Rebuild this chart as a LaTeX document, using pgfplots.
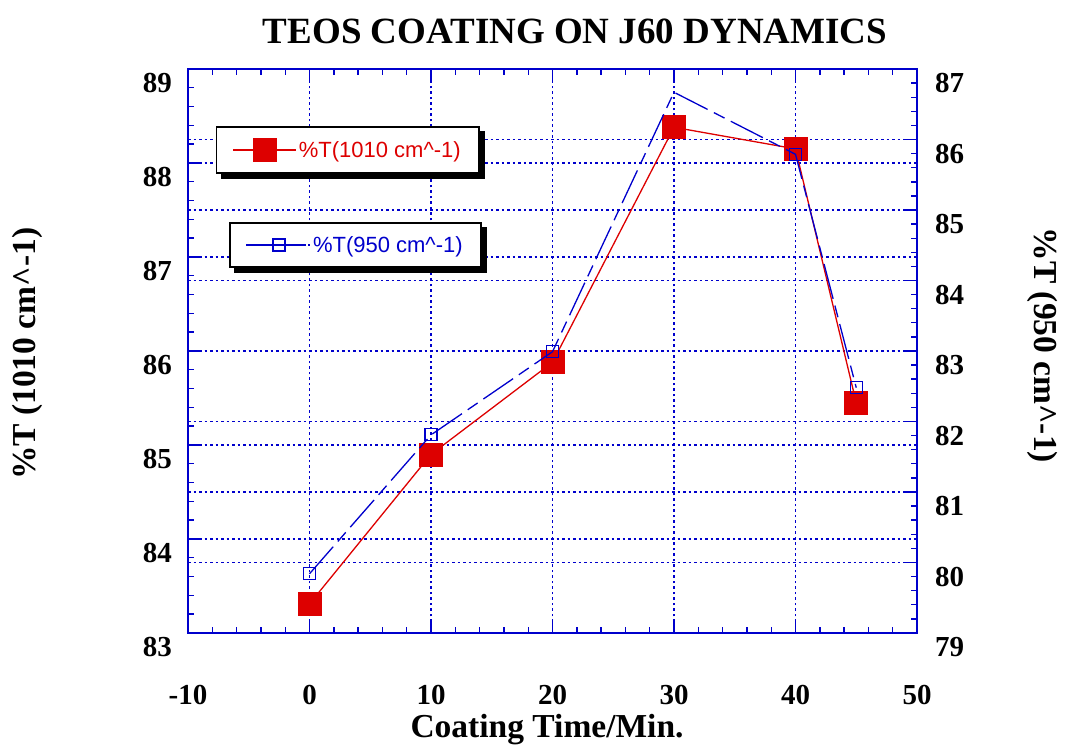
\documentclass[border=0pt]{standalone}
\usepackage{pgfplots}
\pgfplotsset{compat=1.18}
\usepackage{fontspec}
\setmainfont{Liberation Serif}
\newfontfamily\legfont{Liberation Sans}
\definecolor{plotred}{RGB}{221,0,0}
\definecolor{plotblue}{RGB}{0,0,204}

\pgfplotsset{
  common/.style={
    scale only axis, width=729pt, height=564pt,
    xmin=-10, xmax=50,
    set layers=standard,
    axis line style={plotblue, line width=1.5pt},
    tick style={plotblue, line width=1.4pt},
    major tick length=11pt, minor tick length=6pt,
    tick align=inside,
    major grid style={plotblue, line width=1.3pt, dash pattern=on 2.5pt off 3pt},
    ticklabel style={font=\bfseries\fontsize{29}{30}\selectfont},
    /pgf/number format/assume math mode=true,
    label style={font=\bfseries\fontsize{33.5}{35}\selectfont},
    legend style={anchor=north west, draw=black, line width=1.8pt, fill=white,
      inner xsep=16pt, inner ysep=11.5pt,
      font=\legfont\fontsize{22}{24}\selectfont, cells={anchor=west}},
  }
}

\begin{document}
\begin{tikzpicture}
% left axis: %T at 1010 cm^-1
\begin{axis}[common,
  ymin=83, ymax=89, ytick={83,...,89}, minor y tick num=4,
  xtick={-10,0,...,50}, minor x tick num=4,
  xtick pos=both, ytick pos=left,
  xmajorgrids, ymajorgrids,
  xticklabel style={inner sep=0pt, anchor=north, yshift=-52pt},
  yticklabel style={inner sep=0pt, anchor=east, xshift=-16pt, yshift=-14pt},
  title={TEOS COATING ON J60 DYNAMICS},
  title style={at={(axis description cs:0.531,1.0567)}, anchor=center,
    font=\bfseries\fontsize{37}{38}\selectfont},
  xlabel={Coating Time/Min.},
  xlabel style={at={(axis description cs:0.4925,-0.172)}, anchor=center},
  ylabel={\%T (1010 cm\textasciicircum-1)},
  ylabel style={at={(axis description cs:-0.2205,0.495)}, anchor=center},
  legend style={at={(axis description cs:0.038,0.899)}, name=legA},
  legend image code/.code={%
    \draw[#1, mark=none] (0pt,0pt) -- (63pt,0pt);
    \draw[#1] plot coordinates {(31.5pt,0pt)};},
]
\addplot[plotred, line width=1.3pt, mark=square*, mark size=11.5pt,
  mark options={solid, fill=plotred, draw=plotred, line width=0.6pt}]
  coordinates {(0,83.31) (10,84.90) (20,85.88) (30,88.38) (40,88.15) (45,85.45)};
\addlegendentry{\textcolor{plotred}{\%T(1010 cm\textasciicircum-1)}}
\end{axis}

% right axis: %T at 950 cm^-1
\begin{axis}[common,
  ymin=79, ymax=87, ytick={79,...,87}, minor y tick num=4,
  axis y line*=right, axis x line=none, xtick=\empty,
  ymajorgrids,
  yticklabel style={inner sep=0pt, anchor=west, xshift=18pt, yshift=-14pt},
  ylabel={\%T (950 cm\textasciicircum-1)},
  ylabel style={at={(axis description cs:1.172,0.51)}, anchor=center, rotate=180},
  legend style={at={(axis description cs:0.056,0.729)}, name=legB},
  legend image code/.code={%
    \path (-15pt,0pt) -- (49pt,0pt);
    \draw[#1, solid, mark=none] (0pt,0pt) -- (6pt,0pt);
    \draw[#1, solid, mark=none] (12pt,0pt) -- (45pt,0pt);
    \draw[#1, mark indices={}] plot coordinates {(17.6pt,0pt)};},
]
\addplot[plotblue, line width=1.3pt, dash pattern=on 36pt off 7pt on 12pt off 7pt,
  mark=square, mark size=6pt, mark indices={1,2,3,5,6},
  mark options={solid, draw=plotblue, line width=1.2pt}]
  coordinates {(0,79.84) (10,81.81) (20,82.99) (30,86.67) (40,85.79) (45,82.48)};
\addlegendentry{\textcolor{plotblue}{\%T(950 cm\textasciicircum-1)}}
\end{axis}

% drop shadows behind the two legend boxes
\begin{pgfonlayer}{pre main}
  \foreach \leg in {legA,legB} {
    \fill[black] ([xshift=5pt,yshift=-5pt]\leg.south west)
      rectangle ([xshift=5pt,yshift=-5pt]\leg.north east);
  }
\end{pgfonlayer}

\pgfresetboundingbox
\path[use as bounding box] (-188pt,-116pt) rectangle (880pt,633pt);
\end{tikzpicture}
\end{document}
